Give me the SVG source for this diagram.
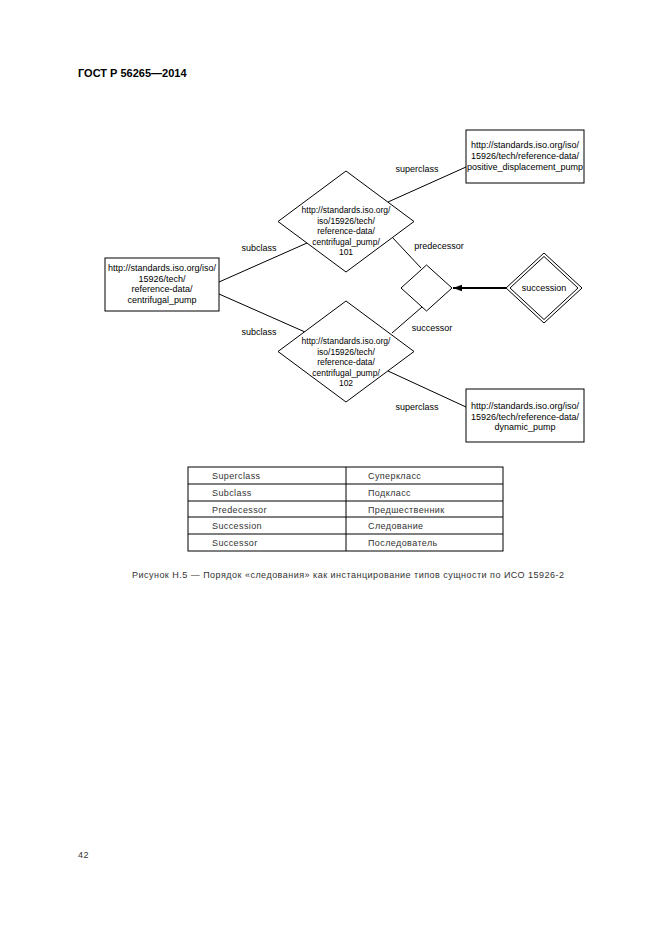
<svg xmlns="http://www.w3.org/2000/svg" width="661" height="936" viewBox="0 0 661 936">
<defs>
<style>
.t{font-family:"Liberation Sans",Arial,sans-serif;fill:#000}
.g{fill:#333}
.n{font-size:9px;text-anchor:middle}
.d{font-size:8.5px;text-anchor:middle}
.l{font-size:9px;text-anchor:middle}
.tb{font-size:9px;letter-spacing:0.4px}
.shape{fill:#fff;stroke:#000;stroke-width:1}
.c{stroke:#000;stroke-width:1;fill:none}
</style>
<marker id="arr" markerWidth="10" markerHeight="8" refX="9" refY="4" orient="auto" markerUnits="userSpaceOnUse">
<path d="M0,0.8 L9,4 L0,7.2 Z" fill="#000"/>
</marker>
</defs>
<rect width="661" height="936" fill="#fff"/>
<text class="t" x="78" y="77" font-size="11" font-weight="bold">ГОСТ Р 56265—2014</text>

<g id="connectors">
<line class="c" x1="219" y1="282" x2="307" y2="243"/>
<line class="c" x1="219" y1="294" x2="305" y2="332"/>
<line class="c" x1="388" y1="202" x2="466" y2="167"/>
<line class="c" x1="392" y1="237" x2="421" y2="268"/>
<line class="c" x1="422" y1="307" x2="392" y2="333"/>
<line class="c" x1="388" y1="371" x2="466" y2="407"/>
<line x1="506" y1="288" x2="453" y2="288" stroke="#000" stroke-width="2" marker-end="url(#arr)"/>
<text class="t l" x="417" y="172">superclass</text>
<text class="t l" x="259" y="251">subclass</text>
<text class="t l" x="439" y="249">predecessor</text>
<text class="t l" x="432" y="331">successor</text>
<text class="t l" x="259" y="335">subclass</text>
<text class="t l" x="417" y="410">superclass</text>
</g>

<g id="centrifugal_pump">
<rect class="shape" x="105" y="258" width="114" height="53"/>
<text class="t n" x="162" y="271">http://standards.iso.org/iso/</text>
<text class="t n" x="162" y="281.5">15926/tech/</text>
<text class="t n" x="162" y="292">reference-data/</text>
<text class="t n" x="162" y="303">centrifugal_pump</text>
</g>

<g id="pump101">
<polygon class="shape" points="346,171 414,221.5 346,272 278,221.5"/>
<text class="t d" x="346" y="213">http://standards.iso.org/</text>
<text class="t d" x="346" y="223.5">iso/15926/tech/</text>
<text class="t d" x="346" y="234">reference-data/</text>
<text class="t d" x="346" y="244.5">centrifugal_pump/</text>
<text class="t d" x="346" y="255">101</text>
</g>

<g id="pump102">
<polygon class="shape" points="346,301 414,351.5 346,402 278,351.5"/>
<text class="t d" x="346" y="344">http://standards.iso.org/</text>
<text class="t d" x="346" y="354.5">iso/15926/tech/</text>
<text class="t d" x="346" y="365">reference-data/</text>
<text class="t d" x="346" y="375.5">centrifugal_pump/</text>
<text class="t d" x="346" y="386">102</text>
</g>

<g id="positive_displacement_pump">
<rect class="shape" x="466" y="130" width="118" height="53"/>
<text class="t n" x="525" y="148">http://standards.iso.org/iso/</text>
<text class="t n" x="525" y="159">15926/tech/reference-data/</text>
<text class="t n" x="525" y="170">positive_displacement_pump</text>
</g>

<g id="dynamic_pump">
<rect class="shape" x="466" y="389" width="118" height="53"/>
<text class="t n" x="525" y="409">http://standards.iso.org/iso/</text>
<text class="t n" x="525" y="419.5">15926/tech/reference-data/</text>
<text class="t n" x="525" y="430">dynamic_pump</text>
</g>

<g id="relation">
<polygon class="shape" points="426.5,265 452,288 426.5,311 401,288"/>
</g>

<g id="succession">
<polygon class="shape" points="544,253 582,288 544,323 506,288"/>
<polygon class="shape" points="544,256.5 578,288 544,319.5 510,288"/>
<text class="t n" x="544" y="291">succession</text>
</g>

<g id="table">
<rect x="188" y="467" width="315" height="84" fill="none" stroke="#000" stroke-width="1"/>
<line class="c" x1="346" y1="467" x2="346" y2="551"/>
<line class="c" x1="188" y1="484" x2="503" y2="484"/>
<line class="c" x1="188" y1="501" x2="503" y2="501"/>
<line class="c" x1="188" y1="517" x2="503" y2="517"/>
<line class="c" x1="188" y1="534" x2="503" y2="534"/>
<text class="t g tb" x="212" y="479">Superclass</text>
<text class="t g tb" x="212" y="496">Subclass</text>
<text class="t g tb" x="212" y="512.5">Predecessor</text>
<text class="t g tb" x="212" y="529">Succession</text>
<text class="t g tb" x="212" y="546">Successor</text>
<text class="t g tb" x="368" y="479">Суперкласс</text>
<text class="t g tb" x="368" y="496">Подкласс</text>
<text class="t g tb" x="368" y="512.5">Предшественник</text>
<text class="t g tb" x="368" y="529">Следование</text>
<text class="t g tb" x="368" y="546">Последователь</text>
</g>

<text class="t g" x="132" y="578" font-size="9" textLength="432" lengthAdjust="spacing">Рисунок Н.5 — Порядок «следования» как инстанцирование типов сущности по ИСО 15926-2</text>
<text class="t g" x="78" y="858" font-size="9" letter-spacing="0.5">42</text>
</svg>
